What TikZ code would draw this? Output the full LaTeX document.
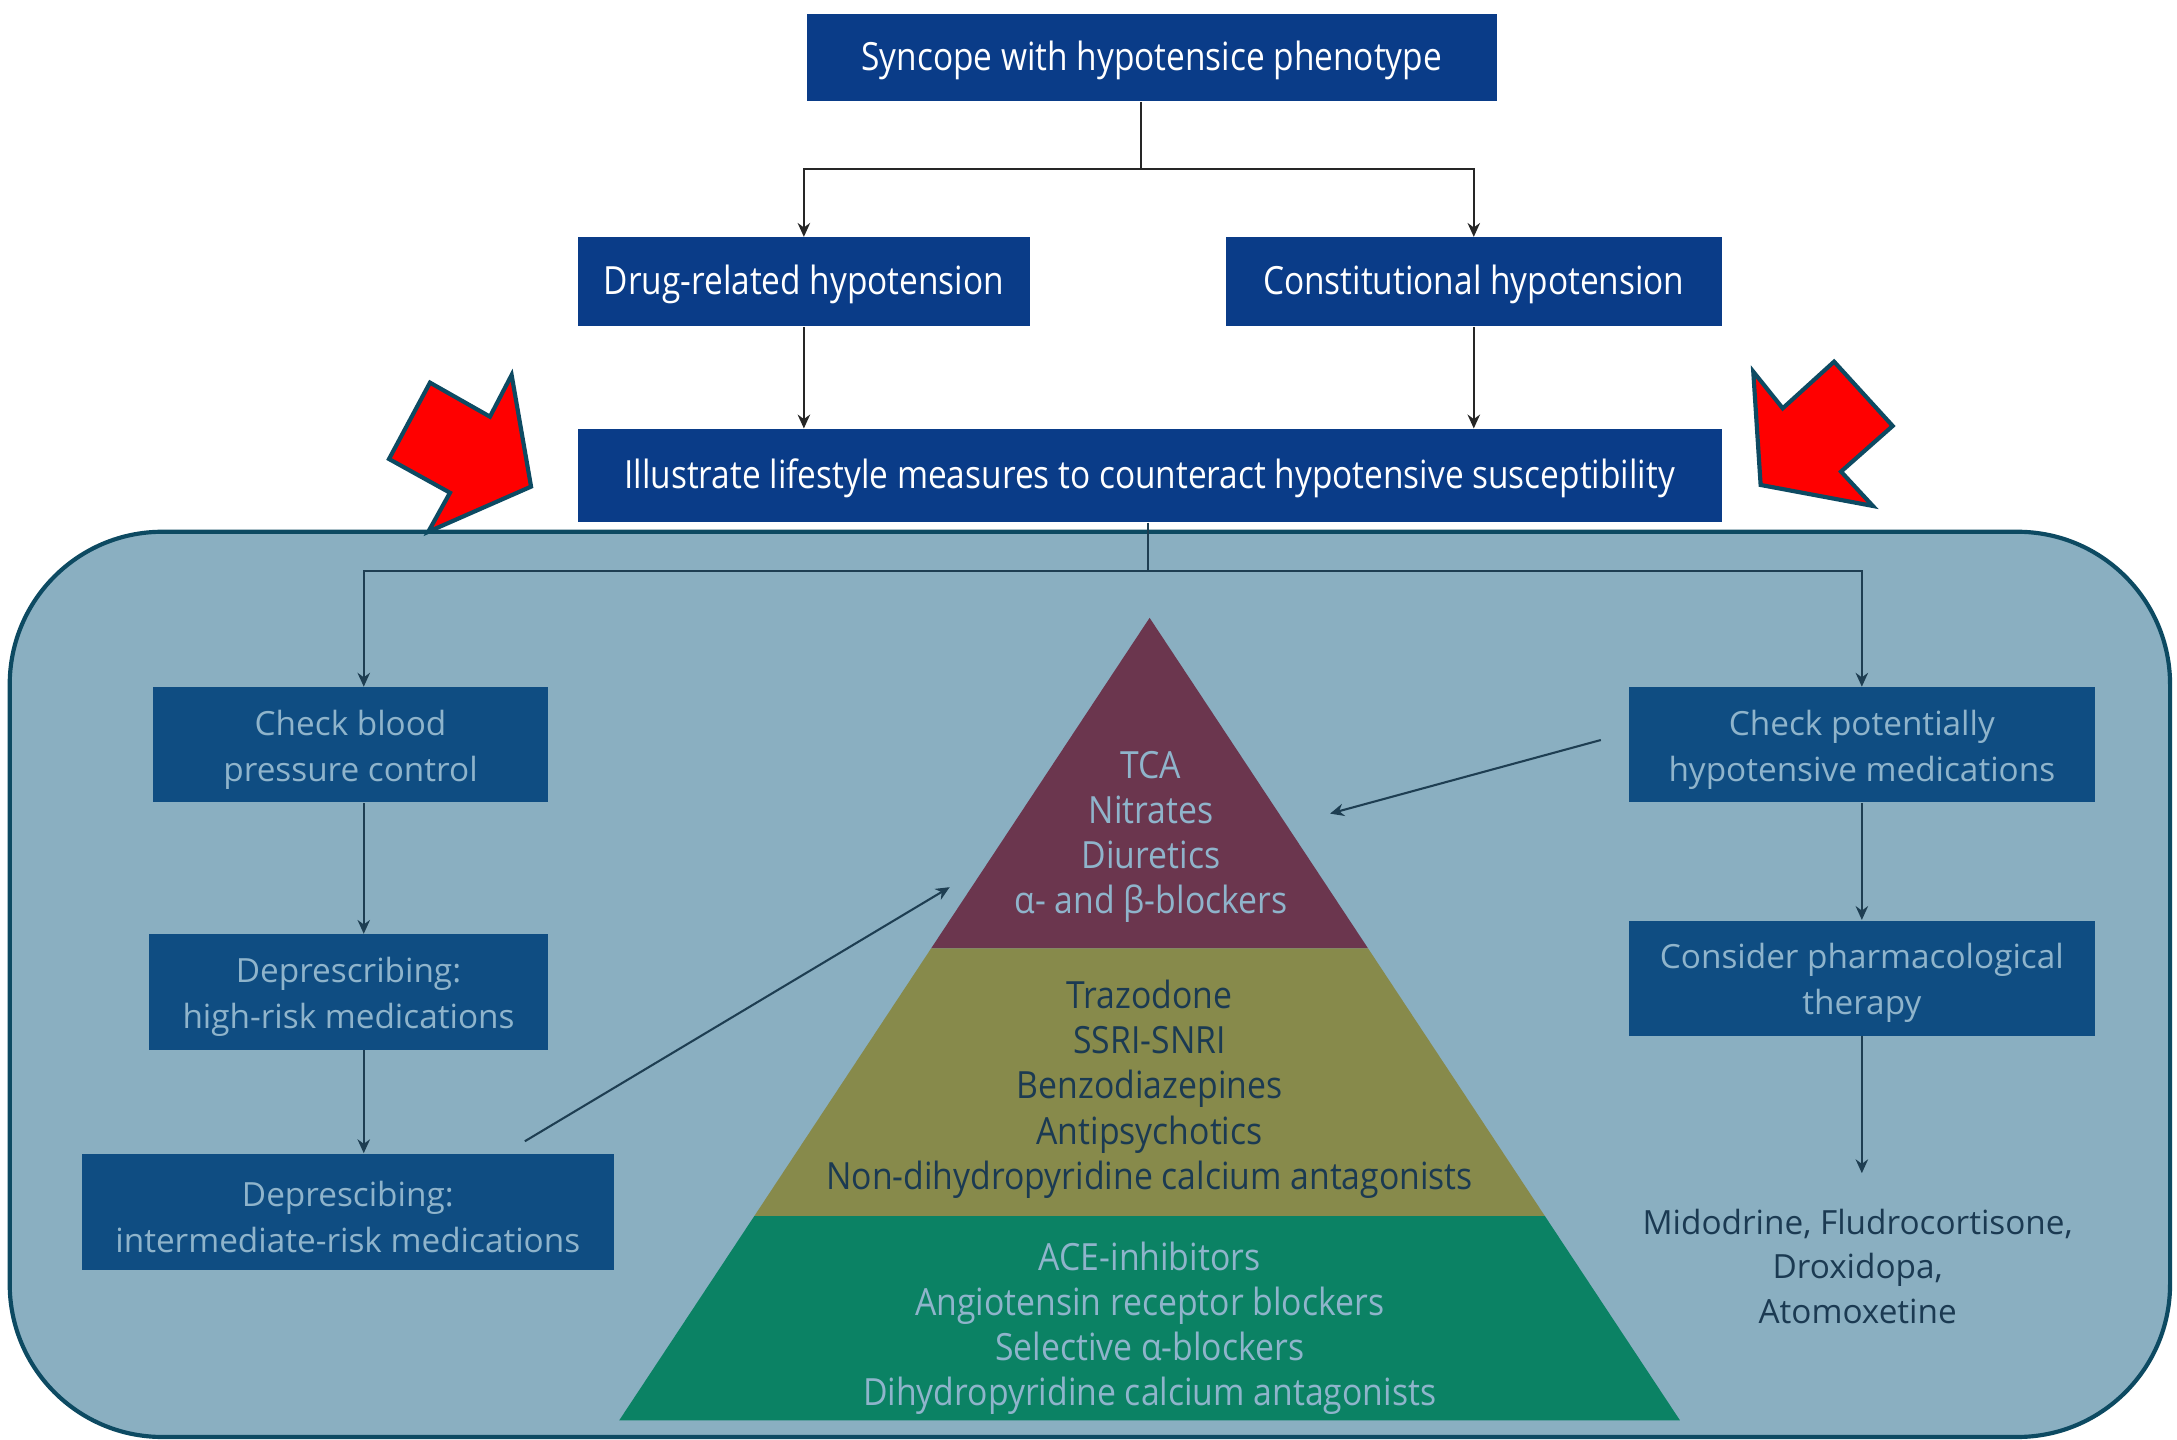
\documentclass[tikz,border=0pt]{standalone}
\usepackage{fontspec}
\setmainfont{Open Sans}
\newfontfamily\topfont[FakeStretch=0.86]{Open Sans}
\newfontfamily\pyrfont[FakeStretch=0.9]{Open Sans}
\usetikzlibrary{arrows.meta}
\definecolor{topblue}{HTML}{0A3C88}
\definecolor{lowblue}{HTML}{0F4D82}
\definecolor{lowtext}{HTML}{8FB4CB}
\definecolor{contfill}{HTML}{8AAFC1}
\definecolor{contline}{HTML}{0D4A62}
\definecolor{darkline}{HTML}{1E3E52}
\definecolor{pyrtop}{HTML}{6B364E}
\definecolor{pyrmid}{HTML}{878A4B}
\definecolor{pyrbot}{HTML}{0B8264}
\definecolor{darktext}{HTML}{1B3A52}
\definecolor{arrowred}{HTML}{FF0000}
\begin{document}
\begin{tikzpicture}[x=0.5pt,y=-0.5pt,
  topbox/.style={fill=topblue, text=white, inner sep=0pt, text height=0.93em, text depth=0pt, font=\topfont\fontsize{14}{16}\selectfont},
  lowbox/.style={fill=lowblue, inner sep=0pt},
  lowlabel/.style={align=center, text=lowtext, inner sep=0pt, yshift=-1.8pt, font=\fontsize{12}{16.5}\selectfont},
  topline/.style={draw=black!85, line width=0.75pt},
  toparrow/.style={topline, -{Stealth[length=5pt,width=4.5pt]}},
  inline/.style={draw=darkline, line width=0.75pt},
  inarrow/.style={inline, -{Stealth[length=5pt,width=4.5pt]}},
  pyrtext/.style={align=center, font=\pyrfont\fontsize{13.5}{16.25}\selectfont},
  redarrow/.style={fill=arrowred, draw=contline, line width=1.5pt, line join=miter}]
\useasboundingbox[fill=white] (0,0) rectangle (1568,1037);
% container
\draw[fill=contfill, draw=contline, line width=1.5pt, rounded corners=55pt] (7,383) rectangle (1563,1035);
% pyramid
\fill[pyrtop] (828,445) -- (985.3,683) -- (670.7,683) -- cycle;
\fill[pyrmid] (670.7,683) -- (985.3,683) -- (1112.8,876) -- (543.2,876) -- cycle;
\fill[pyrbot] (543.2,876) -- (1112.8,876) -- (1210,1023) -- (446,1023) -- cycle;
\node[pyrtext, text=lowtext] (ptop) at (829,603) {TCA\\Nitrates\\Diuretics\\α- and β-blockers};
\node[pyrtext, text=darktext] (pmid) at (828,784.5) {Trazodone\\SSRI-SNRI\\Benzodiazepines\\Antipsychotics\\Non-dihydropyridine calcium antagonists};
\node[pyrtext, text=lowtext] (pbot) at (828,956.5) {ACE-inhibitors\\Angiotensin receptor blockers\\Selective α-blockers\\Dihydropyridine calcium antagonists};
% top boxes
\node[topbox, minimum width=248.5pt, minimum height=31.5pt] (b1) at (829.5,41.5) {Syncope with hypotensice phenotype};
\node[topbox, minimum width=163pt, minimum height=32pt] (b2) at (579,203) {Drug-related hypotension};
\node[topbox, minimum width=178.5pt, minimum height=32pt] (b3) at (1061.5,203) {Constitutional hypotension};
\node[topbox, minimum width=412pt, minimum height=33.5pt] (b4) at (828,342.5) {Illustrate lifestyle measures to counteract hypotensive susceptibility};
% lower boxes
\node[lowbox, minimum width=142.5pt, minimum height=41.5pt, label={[lowlabel]center:Check blood\\pressure control}] (b5) at (252.5,536.5) {};
\node[lowbox, minimum width=144pt, minimum height=41.5pt, label={[lowlabel]center:Deprescribing:\\high-risk medications}] (b6) at (251,714.5) {};
\node[lowbox, minimum width=191.5pt, minimum height=42pt, label={[lowlabel]center:Deprescibing:\\intermediate-risk medications}] (b7) at (250.5,873) {};
\node[lowbox, minimum width=168pt, minimum height=41.5pt, label={[lowlabel]center:Check potentially\\hypotensive medications}] (b8) at (1341,536.5) {};
\node[lowbox, minimum width=168pt, minimum height=41.5pt, label={[lowlabel]center:Consider pharmacological\\therapy}] (b9) at (1341,704.5) {};
\node[align=center, text=darktext, font=\fontsize{12}{16}\selectfont] (drugs) at (1338,912) {Midodrine, Fludrocortisone,\\Droxidopa,\\Atomoxetine};
% top connectors
\coordinate (s1) at (822,122);
\draw[topline] (b1.south -| s1) -- (s1);
\draw[toparrow] (s1) -| (b2.north);
\draw[toparrow] (s1) -| (b3.north);
\draw[toparrow] (b2.south) -- (b2.south |- b4.north);
\draw[toparrow] (b3.south) -- (b3.south |- b4.north);
% inner connectors
\coordinate (s2) at (827,411);
\coordinate (l1) at (262,411);
\coordinate (r1) at (1341,411);
\coordinate (r2) at (1341,845);
\draw[inline] (b4.south -| s2) -- (s2);
\draw[inarrow] (s2) -- (l1) -- (l1 |- b5.north);
\draw[inarrow] (s2) -- (r1) -- (r1 |- b8.north);
\draw[inarrow] (l1 |- b5.south) -- (l1 |- b6.north);
\draw[inarrow] (l1 |- b6.south) -- (l1 |- b7.north);
\draw[inarrow] (b8.south) -- (b9.north);
\draw[inarrow] (b9.south) -- (r2);
\coordinate (d1s) at (378,822);
\coordinate (d1e) at (684,639);
\coordinate (d2s) at (1153,533);
\coordinate (d2e) at (958,586);
\draw[inarrow] (d1s) -- (d1e);
\draw[inarrow] (d2s) -- (d2e);
% red arrows
\draw[redarrow] (309.7,275.6) -- (352.9,300.1) -- (368.5,270.1) -- (382.5,350.5) -- (308.5,383) -- (324.1,354.9) -- (280.2,330.6) -- cycle;
\draw[redarrow] (1262.8,267.7) -- (1284,294.1) -- (1321,260.5) -- (1363.2,306.8) -- (1326,339.7) -- (1348.9,364.4) -- (1268.1,349.3) -- cycle;
\end{tikzpicture}
\end{document}
